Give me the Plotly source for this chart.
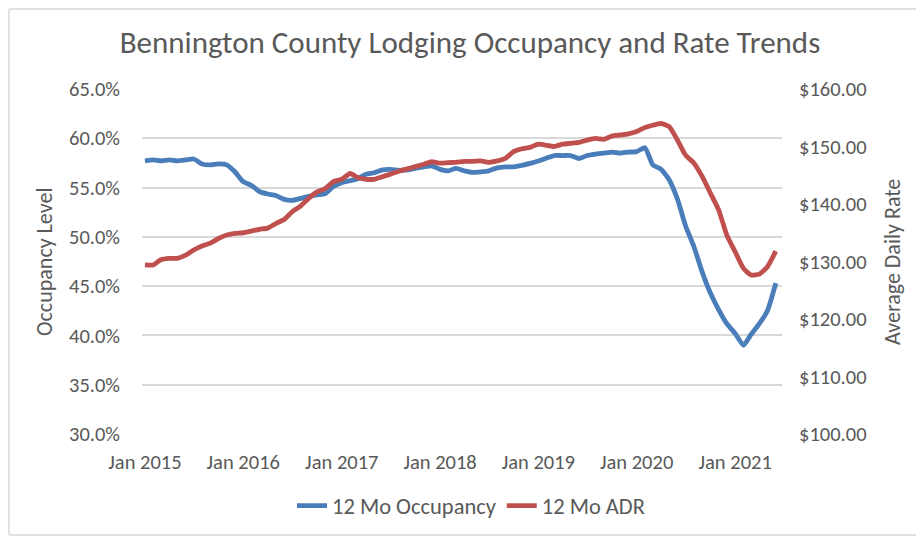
import pandas as pd
import plotly.graph_objects as go

# ---- data (monthly, Jan 2015 .. Jun 2021) ----
start_month = "2015-01-01"
occupancy = [
    57.7, 57.8, 57.7, 57.8, 57.7, 57.8, 57.9, 57.4, 57.3, 57.4, 57.3, 56.6,
    55.6, 55.2, 54.6, 54.35, 54.2, 53.8, 53.7, 53.9, 54.1, 54.25, 54.4, 55.1,
    55.5, 55.7, 55.9, 56.35, 56.5, 56.8, 56.85, 56.75, 56.8, 56.95, 57.1, 57.2,
    56.85, 56.7, 56.95, 56.7, 56.55, 56.6, 56.7, 57.0, 57.1, 57.1, 57.25, 57.45,
    57.7, 58.0, 58.25, 58.25, 58.25, 57.95, 58.25, 58.4, 58.5, 58.6, 58.5, 58.6,
    58.65, 59.05, 57.3, 56.85, 55.8, 53.8, 51.1, 49.0, 46.4, 44.3, 42.6, 41.2,
    40.2, 39.0, 40.1, 41.2, 42.5, 45.3,
]
adr = [
    129.4, 129.4, 130.3, 130.55, 130.55, 131.1, 132.0, 132.7, 133.2, 134.0, 134.6, 134.9,
    135.0, 135.3, 135.6, 135.8, 136.6, 137.3, 138.65, 139.65, 141.0, 142.1, 142.7, 143.9,
    144.3, 145.3, 144.6, 144.3, 144.3, 144.75, 145.2, 145.7, 146.1, 146.5, 146.9, 147.35,
    147.1, 147.2, 147.25, 147.4, 147.4, 147.5, 147.25, 147.5, 147.95, 149.1, 149.6, 149.85,
    150.4, 150.2, 150.0, 150.4, 150.55, 150.7, 151.1, 151.4, 151.25, 151.8, 152.0, 152.2,
    152.6, 153.3, 153.7, 154.0, 153.45, 151.1, 148.5, 147.1, 144.75, 141.9, 138.95, 134.6,
    131.7, 128.8, 127.65, 127.8, 129.1, 131.8,
]
tick_years = [2015, 2016, 2017, 2018, 2019, 2020, 2021]
tick_labels = [f"Jan {y}" for y in tick_years]
series_names = ["12 Mo Occupancy", "12 Mo ADR"]
title_text = "Bennington County Lodging Occupancy and Rate Trends"

months = pd.date_range(start_month, periods=len(occupancy), freq="MS")
tick_vals = [pd.Timestamp(f"{y}-01-01") for y in tick_years]

FONT = "Carlito, 'Noto Sans', sans-serif"
TXT = "#595959"
BLUE = "#4A7EBB"
RED = "#C0504D"
GRID = "#D9D9D9"

fig = go.Figure()
fig.add_trace(go.Scatter(
    x=months, y=occupancy, name=series_names[0], mode="lines",
    line=dict(color=BLUE, width=4.8, shape="spline", smoothing=0.5),
    yaxis="y",
))
fig.add_trace(go.Scatter(
    x=months, y=adr, name=series_names[1], mode="lines",
    line=dict(color=RED, width=4.8, shape="spline", smoothing=0.5),
    yaxis="y2",
))

# the page body adds an 8px offset; lay out in screen coordinates
OFF = 8
W, H = 924 - 2 * OFF, 537 - OFF
PX0, PX1, PY0, PY1 = 142, 782, 89, 434   # plot area in screen pixels
L, R = PX0 - OFF, W - (PX1 - OFF)
T, B = PY0 - OFF, H - (PY1 - OFF)
pw, ph = PX1 - PX0, PY1 - PY0

def px_x(sx):
    return (sx - PX0) / pw

def px_y(sy):
    return (PY1 - sy) / ph

fig.update_layout(
    width=W, height=H,
    margin=dict(l=L, r=R, t=T, b=B, autoexpand=False),
    paper_bgcolor="white", plot_bgcolor="white",
    font=dict(family=FONT, size=21, color=TXT),
    title=dict(text=title_text, x=px_x(470), xanchor="center", xref="paper",
               y=1 - (43 - OFF - 1) / H, yanchor="middle", yref="container",
               font=dict(family=FONT, size=31, color=TXT)),
    xaxis=dict(
        type="date",
        range=["2014-12-21", "2021-06-24"],
        tickvals=tick_vals, ticktext=tick_labels,
        showgrid=False, zeroline=False, showline=False, ticks="",
        ticklabelstandoff=13,
        tickfont=dict(size=20.5, color=TXT),
    ),
    yaxis=dict(
        range=[30, 65], dtick=5, tick0=30,
        tickformat=".1f", ticksuffix="%",
        showgrid=True, gridcolor=GRID, gridwidth=1.5,
        zeroline=False, showline=False, ticks="",
        ticklabelstandoff=21,
        tickfont=dict(size=20.5, color=TXT),
    ),
    yaxis2=dict(
        range=[100, 160], dtick=10, tick0=100,
        tickformat="$.2f",
        overlaying="y", side="right",
        showgrid=False, zeroline=False, showline=False, ticks="",
        ticklabelstandoff=16,
        tickfont=dict(size=20.5, color=TXT),
    ),
    legend=dict(
        orientation="h", x=px_x(471), xanchor="center",
        y=px_y(506), yanchor="middle",
        font=dict(size=22.5, color=TXT),
        bgcolor="rgba(0,0,0,0)",
    ),
    showlegend=True,
)

# axis titles
fig.add_annotation(text="Occupancy Level", textangle=-90, showarrow=False,
                   xref="paper", yref="paper", x=px_x(45), y=px_y(262),
                   xanchor="center", yanchor="middle",
                   font=dict(family=FONT, size=22, color=TXT))
fig.add_annotation(text="Average Daily Rate", textangle=-90, showarrow=False,
                   xref="paper", yref="paper", x=px_x(893), y=px_y(262),
                   xanchor="center", yanchor="middle",
                   font=dict(family=FONT, size=22, color=TXT))

# chart border (top, left, bottom)
for x0, y0, x1, y1 in [(9, 9, 916, 9), (9, 9, 9, 535), (9, 535, 916, 535)]:
    fig.add_shape(type="line", xref="paper", yref="paper",
                  x0=px_x(x0), y0=px_y(y0), x1=px_x(x1), y1=px_y(y1),
                  line=dict(color=GRID, width=1.5), layer="below")

fig.write_html("out.html")
